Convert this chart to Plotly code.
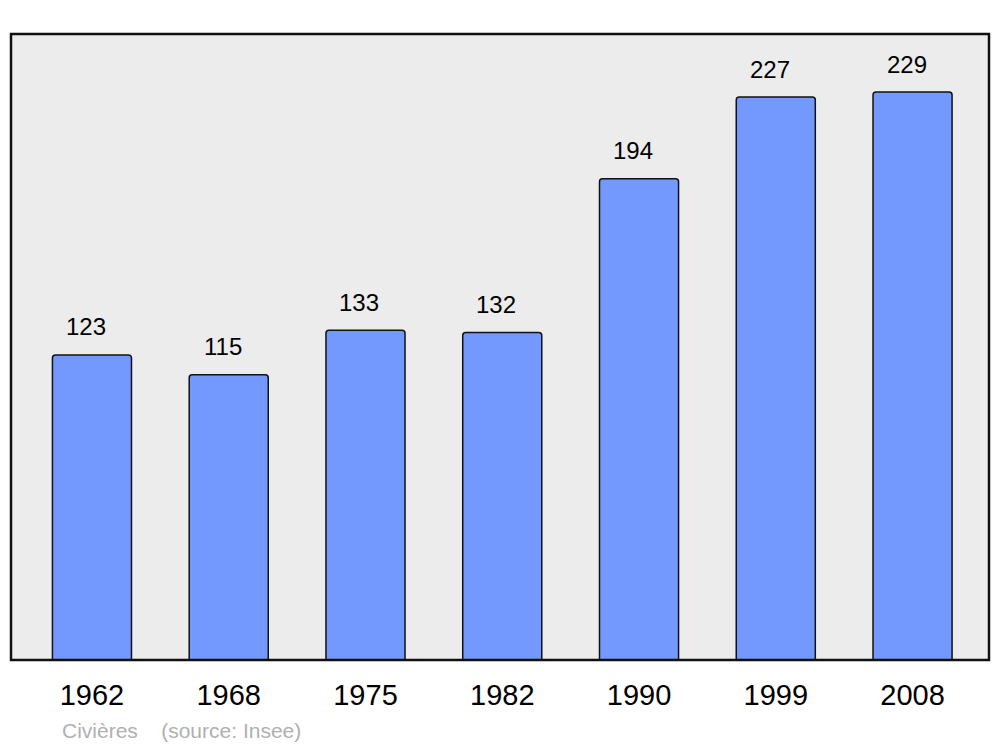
import plotly.graph_objects as go

years = ["1962", "1968", "1975", "1982", "1990", "1999", "2008"]
population = [123, 115, 133, 132, 194, 227, 229]
caption = "Civières    (source: Insee)"

FONT = "Liberation Sans, Arial, sans-serif"

fig = go.Figure()
fig.add_trace(go.Bar(
    x=years, y=population, width=0.578,
    marker=dict(color="#7399ff", line=dict(color="#111111", width=1.5), cornerradius=3),
    hoverinfo="skip",
))

for i, v in enumerate(population):
    fig.add_annotation(x=i, y=v, xref="x", yref="y", text=str(v), showarrow=False,
                       yanchor="middle", yshift=28, xshift=-6,
                       font=dict(family=FONT, size=24, color="#000000"))

fig.add_annotation(xref="paper", yref="paper", x=(60 - 11) / 978, y=-70 / 626,
                   xanchor="left", yanchor="middle", text=caption, showarrow=False,
                   font=dict(family=FONT, size=21, color="#b0b0b0"))

fig.add_shape(type="rect", xref="paper", yref="paper", x0=0, y0=0, x1=1, y1=1,
              line=dict(color="#111111", width=2.5), layer="above")

fig.update_layout(
    width=1000, height=747,
    margin=dict(l=11, r=11, t=34, b=87),
    paper_bgcolor="#ffffff", plot_bgcolor="#ececec",
    showlegend=False,
    xaxis=dict(type="category", range=[-0.592, 6.559], showgrid=False, zeroline=False, showline=False,
               ticks="outside", ticklen=9, tickcolor="rgba(0,0,0,0)",
               tickfont=dict(family=FONT, size=29, color="#000000")),
    yaxis=dict(range=[0, 252.4], showgrid=False, zeroline=False, showticklabels=False, showline=False),
)

fig.write_html("out.html", config={"displayModeBar": False},
               post_script="document.body.style.margin='0';document.body.style.overflow='hidden';")
